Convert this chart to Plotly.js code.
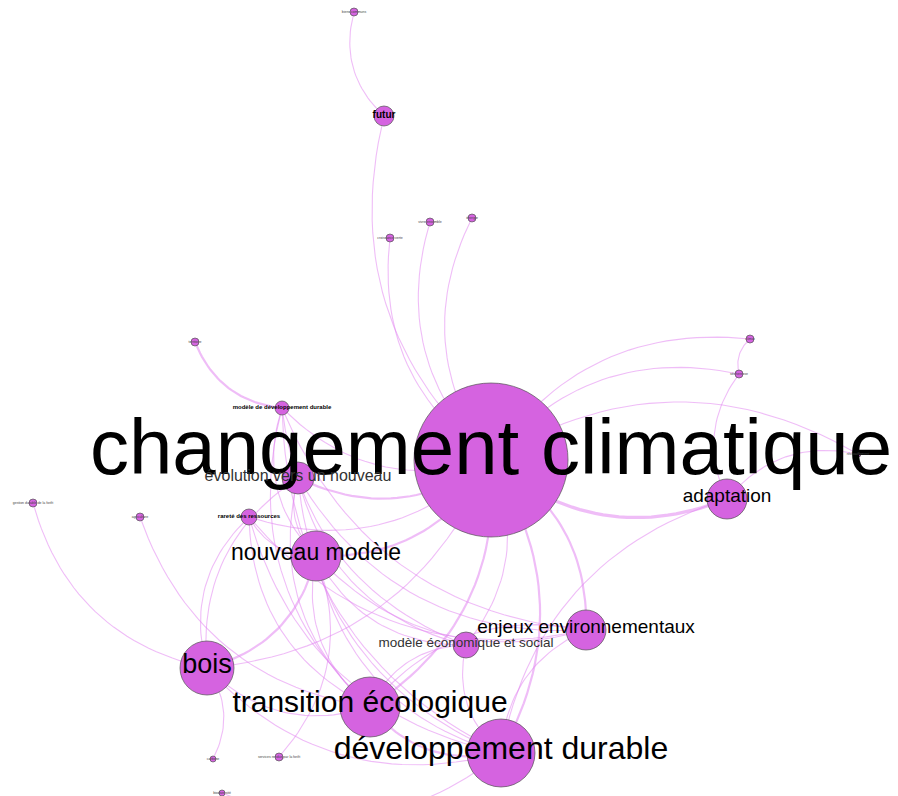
<!DOCTYPE html>
<html>
<head>
<meta charset="utf-8">
<script src="https://cdn.plot.ly/plotly-3.0.1.min.js"></script>
<style>html,body{margin:0;padding:0;background:#fff;}#chart{width:898px;height:796px;}</style>
</head>
<body>
<div id="chart"></div>
<script>
// ---- DATA ----
const nodeLabels = [
  "changement climatique", "futur", "biens communs", "croissance verte", "vivre ensemble",
  "énergie", "territoire", "modèle de développement durable", "climat", "sécheresse",
  "adaptation", "évolution vers un nouveau", "rareté des ressources", "agriculture",
  "gestion durable de la forêt", "nouveau modèle", "enjeux environnementaux",
  "modèle économique et social", "bois", "transition écologique", "développement durable",
  "carbone", "services rendus par la forêt", "biodiversité", "réchauffement"
];
// layout coordinates of the graph (force layout result)
const nodeX = [491, 384, 354, 390, 430, 472, 195, 282, 750, 739, 727, 298, 249, 140, 33, 316, 586, 466, 207, 370, 501, 213, 279, 222, 858];
const nodeY = [460, 116, 12, 238, 222, 218, 342, 408, 339, 374, 499, 478, 517, 517, 503, 556, 630, 645, 668, 707, 753, 759, 757, 793, 454];
// node weight (radius)
const nodeWeight = [77, 10, 4, 4, 4, 4, 4, 7, 4, 4, 20, 16, 8, 4, 4, 25, 20, 13, 27, 30, 34, 3, 4, 3, 3];
// edges: source, target, weight
const edgeSource = [2, 1, 3, 4, 5, 6, 7, 7, 7, 7, 7, 7, 8, 8, 9, 9, 24, 24, 0, 10, 11, 11, 11, 11, 11, 11, 11, 12, 12, 12, 12, 12, 12, 13, 14, 15, 15, 15, 15, 15, 18, 16, 16, 16, 17, 17, 17, 18, 18, 18, 19, 19, 20, 21, 22, 23];
const edgeTarget = [1, 0, 0, 0, 0, 7, 0, 15, 19, 20, 16, 17, 0, 9, 0, 10, 0, 10, 10, 20, 0, 15, 19, 20, 16, 17, 18, 0, 15, 16, 20, 19, 18, 19, 18, 0, 16, 17, 19, 20, 15, 0, 20, 19, 0, 20, 19, 0, 19, 20, 0, 20, 0, 18, 15, 20];
const edgeWeight = [1, 1, 1, 1, 1, 2, 1, 1, 1, 1, 1, 1, 1, 1, 1, 1, 1, 1, 3, 1, 2, 1, 1, 1, 1, 1, 1, 1, 1, 1, 1, 1, 1, 1, 1, 2, 1, 1, 1, 1, 2, 2, 1, 1, 1, 1, 1, 1, 1, 1, 2, 2, 2, 1, 1, 1];

// ---- RENDERING ----
const NODE_COLOR = "rgb(213,99,224)";
const EDGE_COLOR = "rgba(226,135,240,0.55)";
const FONT = "Liberation Sans, Arial, sans-serif";

function bezier(sx, sy, tx, ty) {
  const dx = tx - sx, dy = ty - sy;
  const mx = (sx + tx) / 2, my = (sy + ty) / 2;
  const c = 0.3;
  const cx = mx - c * dy, cy = my + c * dx;
  const xs = [], ys = [];
  const n = 30;
  for (let i = 0; i <= n; i++) {
    const t = i / n, u = 1 - t;
    xs.push(u * u * sx + 2 * u * t * cx + t * t * tx);
    ys.push(u * u * sy + 2 * u * t * cy + t * t * ty);
  }
  return [xs, ys];
}

const traces = [];
const weights = [...new Set(edgeWeight)].sort();
weights.forEach(w => {
  const ex = [], ey = [];
  edgeSource.forEach((s, i) => {
    if (edgeWeight[i] !== w) return;
    const t = edgeTarget[i];
    const [xs, ys] = bezier(nodeX[s], nodeY[s], nodeX[t], nodeY[t]);
    ex.push(...xs, null); ey.push(...ys, null);
  });
  traces.push({
    type: "scatter", mode: "lines", x: ex, y: ey,
    line: { color: EDGE_COLOR, width: 1.1 * w },
    hoverinfo: "skip"
  });
});

// nodes
traces.push({
  type: "scatter", mode: "markers", x: nodeX, y: nodeY,
  marker: { size: nodeWeight.map(r => 2 * r), color: NODE_COLOR, line: { color: "#555", width: 0.7 }, opacity: 1 },
  hoverinfo: "skip"
});

// labels
const labelSize = nodeWeight.map((r, i) => {
  const custom = {0: 78, 10: 19, 11: 16, 15: 23, 16: 19, 17: 13.5, 18: 27, 19: 30, 20: 32, 1: 10, 7: 6, 12: 6};
  return custom[i] !== undefined ? custom[i] : 3.5;
});
const boldSet = new Set([1, 7, 12]);
const greySet = new Set([11, 17]);
traces.push({
  type: "scatter", mode: "text",
  x: nodeX,
  y: nodeY.map((y, i) => y - 0.07 * labelSize[i]),
  text: nodeLabels.map((t, i) => boldSet.has(i) ? "<b>" + t + "</b>" : t),
  textposition: "middle center",
  textfont: {
    family: FONT,
    size: labelSize,
    color: nodeLabels.map((t, i) => greySet.has(i) ? "#333" : (labelSize[i] < 4 ? "#444" : "#000"))
  },
  hoverinfo: "skip"
});

const layout = {
  width: 898, height: 796,
  margin: { l: 0, r: 0, t: 0, b: 0 },
  paper_bgcolor: "#fff", plot_bgcolor: "#fff",
  showlegend: false, hovermode: false,
  xaxis: { range: [0, 898], visible: false, fixedrange: true },
  yaxis: { range: [796, 0], visible: false, fixedrange: true }
};

Plotly.newPlot("chart", traces, layout, { staticPlot: true, displayModeBar: false });
</script>
</body>
</html>
